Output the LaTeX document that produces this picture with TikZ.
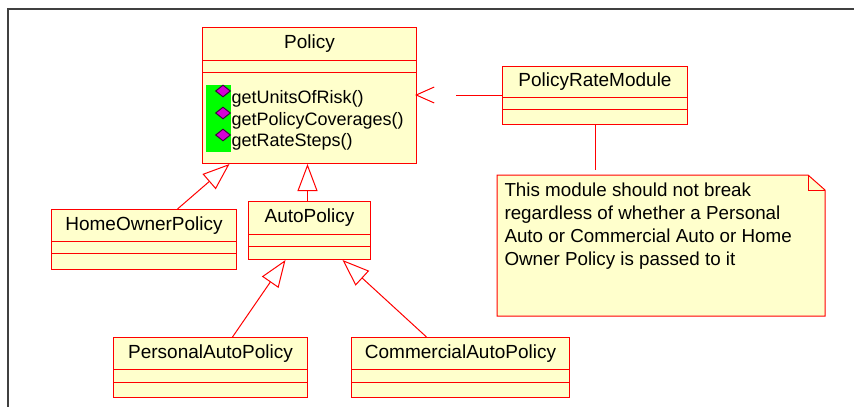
\documentclass[tikz,border=0pt]{standalone}
\usepackage{fontspec}
\setmainfont{Liberation Sans}
\usetikzlibrary{shapes.geometric, arrows.meta}
\definecolor{umlred}{RGB}{255,0,0}
\definecolor{umlfill}{RGB}{255,255,204}
\definecolor{opsgreen}{RGB}{0,255,0}
\definecolor{opsmagenta}{RGB}{214,0,214}

\begin{document}
\begin{tikzpicture}[x=1pt,y=-1pt,line width=1pt,
  every node/.style={font=\fontsize{18}{23}\selectfont},
  box/.style n args={2}{draw=umlred,fill=umlfill,anchor=north west,inner sep=0pt,minimum width=#1,minimum height=#2,font=\fontsize{19}{23}\selectfont},
  gen/.style={draw=umlred,-{Triangle[length=27pt,width=20pt,fill=white]}},
  dep/.style={draw=umlred,dash pattern=on 46pt off 60pt,-{Straight Barb[length=18pt,width=16pt]}},
  op/.style={anchor=base west,inner sep=0pt},
  opicon/.style={shape=diamond,draw=black!70!opsmagenta,fill=opsmagenta,line width=1pt,inner sep=0pt,minimum width=15pt,minimum height=12pt}]
  \useasboundingbox (0,0) rectangle (854,407);
  \draw[line width=1.5pt,black!75] (854,9) -- (8,9) -- (8,407);
  % classes
  \path (202,27) node[box={214pt}{33pt}] (policy) {Policy}
  (202,60) node[box={214pt}{12pt}] (policy-a) {}
  (202,72) node[box={214pt}{91pt}] (policy-o) {};
  \fill[opsgreen] (206,85) rectangle (231,152);
  \path (223,91) node[opicon] (icon1) {} (223,113) node[opicon] (icon2) {} (223,135) node[opicon] (icon3) {};
  \path (231,103.5) node[op] (op1) {getUnitsOfRisk()}
  (231,125) node[op] (op2) {getPolicyCoverages()}
  (231,146.5) node[op] (op3) {getRateSteps()};
  \path (502,66) node[box={185pt}{31pt}] (prm) {PolicyRateModule}
  (502,97) node[box={185pt}{12pt}] (prm-a) {}
  (502,109) node[box={185pt}{15pt}] (prm-o) {};
  \path (51,209) node[box={185pt}{32pt}] (homeowner) {HomeOwnerPolicy}
  (51,241) node[box={185pt}{12pt}] (homeowner-a) {}
  (51,253) node[box={185pt}{16pt}] (homeowner-o) {};
  \path (248,201) node[box={122pt}{33pt}] (autopolicy) {AutoPolicy}
  (248,234) node[box={122pt}{12pt}] (autopolicy-a) {}
  (248,246) node[box={122pt}{13pt}] (autopolicy-o) {};
  \path (113,337) node[box={194pt}{32pt}] (personal) {PersonalAutoPolicy}
  (113,369) node[box={194pt}{13pt}] (personal-a) {}
  (113,382) node[box={194pt}{15pt}] (personal-o) {};
  \path (351,337) node[box={218pt}{32pt}] (commercial) {CommercialAutoPolicy}
  (351,369) node[box={218pt}{13pt}] (commercial-a) {}
  (351,382) node[box={218pt}{15pt}] (commercial-o) {};
  % note
  \node[anchor=north west,inner sep=0pt,minimum width=327pt,minimum height=140pt] (note) at (497,175) {};
  \filldraw[draw=umlred,fill=umlfill] (note.north west) -- ([xshift=-17pt]note.north east) -- ([yshift=-15pt]note.north east) -- (note.south east) -- (note.south west) -- cycle;
  \draw[umlred] ([xshift=-17pt]note.north east) -- ([xshift=-17pt,yshift=-15pt]note.north east) -- ([yshift=-15pt]note.north east);
  \node[anchor=north west,inner sep=0pt,align=left,font=\fontsize{18.8}{23}\selectfont] (notetext) at (504,182.5) {This module should not break\\regardless of whether a Personal\\Auto or Commercial Auto or Home\\Owner Policy is passed to it};
  % connectors
  \draw[gen] ([xshift=33.5pt]homeowner.north) -- ([xshift=-80pt]policy-o.south);
  \draw[gen] ([xshift=-2pt]autopolicy.north) -- ([xshift=-2pt]policy-o.south);
  \draw[gen] ([xshift=22pt]personal.north) -- ([xshift=-24pt]autopolicy-o.south);
  \draw[gen] ([xshift=-34pt]commercial.north) -- ([xshift=33pt]autopolicy-o.south);
  \coordinate (dstart) at ([yshift=3pt]prm.south west);
  \draw[dep] (dstart) -- ([xshift=-2pt]dstart -| policy-o.east);
  \draw[umlred,shorten >=5pt] (prm-o.south) -- (prm-o.south |- note.north);
\end{tikzpicture}
\end{document}
